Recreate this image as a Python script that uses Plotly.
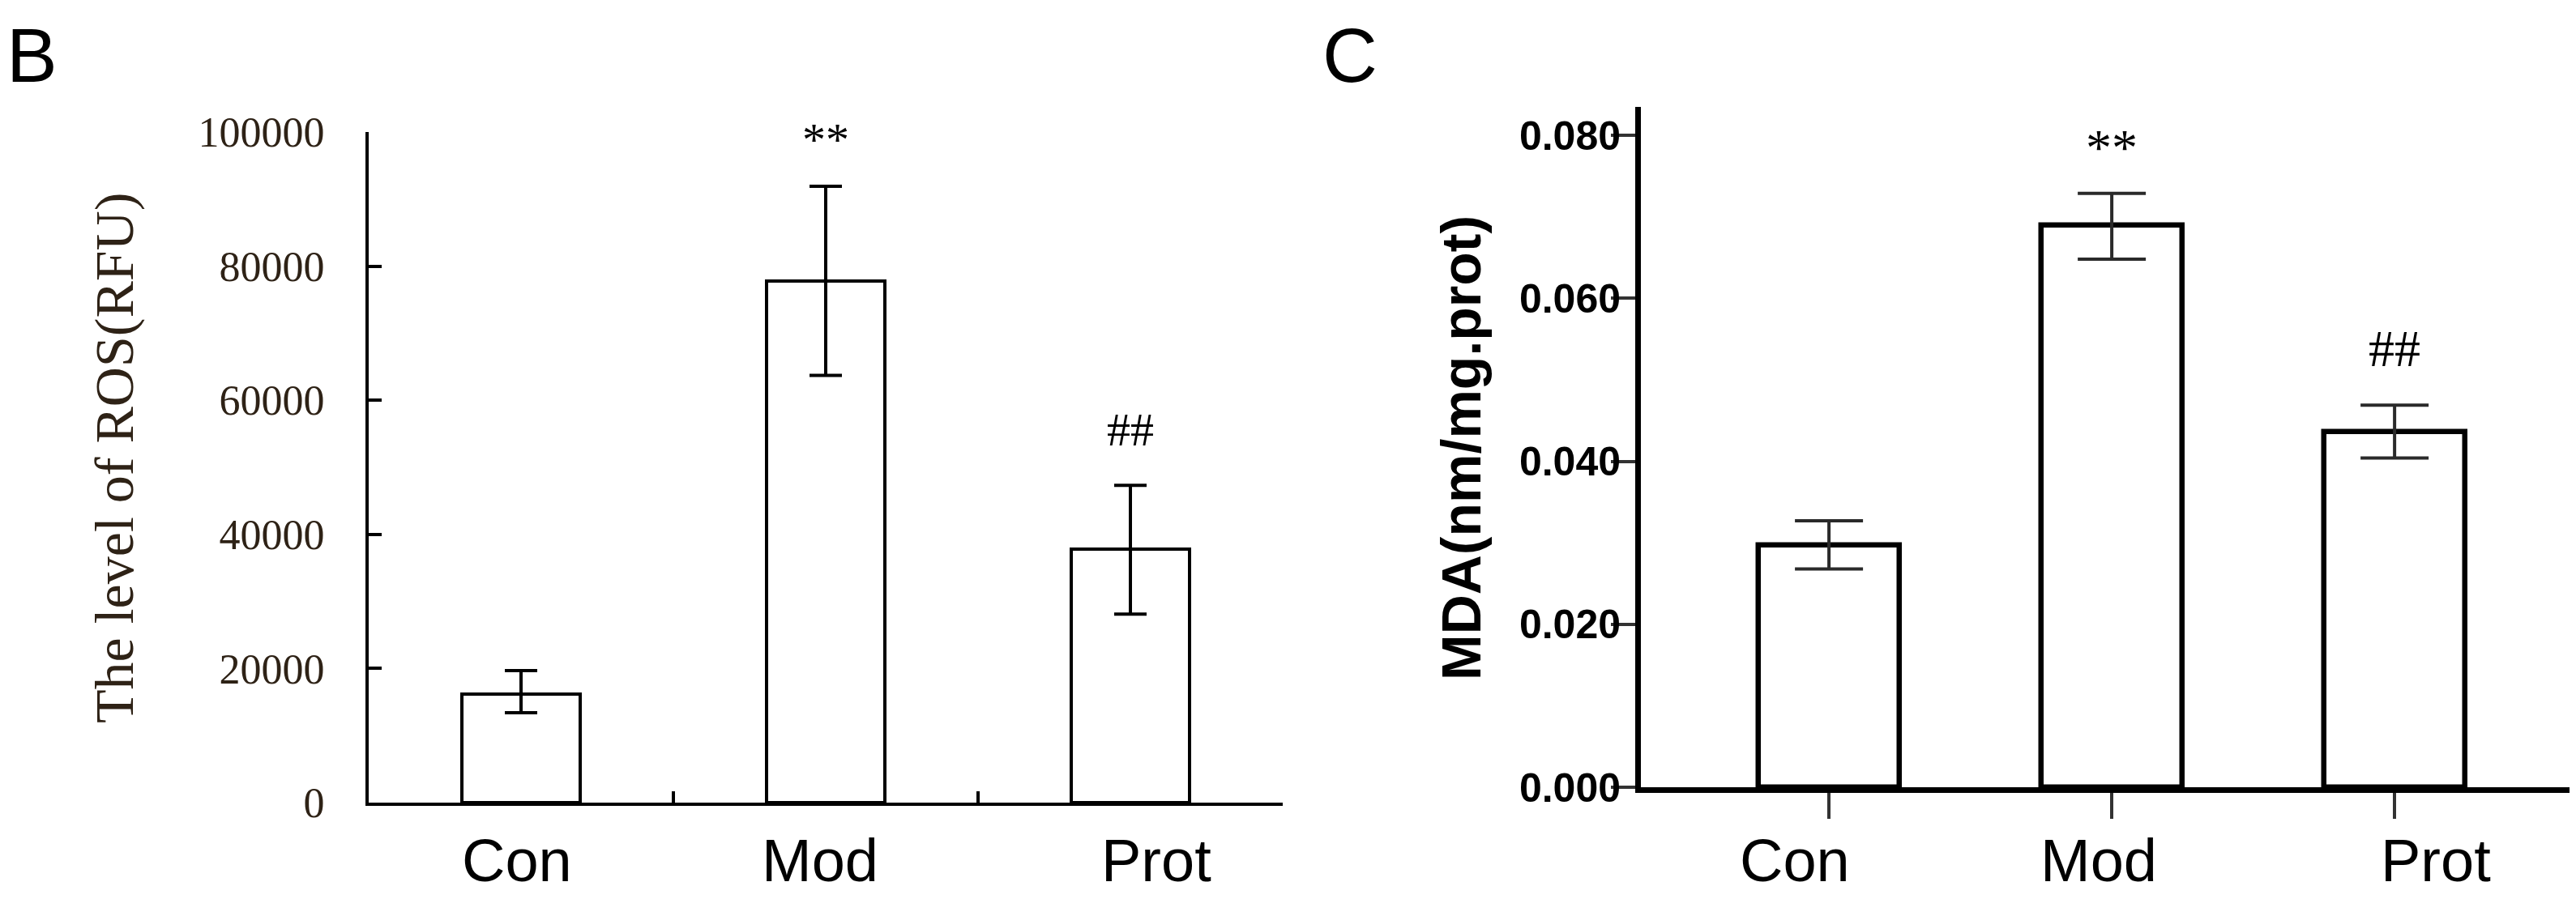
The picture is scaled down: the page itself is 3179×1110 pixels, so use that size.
import plotly.graph_objects as go

W, H = 3179, 1110
OFF = 8  # page body margin compensation (px)

# ---------------- data ----------------
categories = ["Con", "Mod", "Prot"]

ros_mean = [16200, 77800, 37800]
ros_err_plus = [3500, 14100, 9500]
ros_err_minus = [2800, 14100, 9700]
ros_marks = ["", "**", "##"]
ros_ticks = [0, 20000, 40000, 60000, 80000, 100000]

mda_mean = [0.0297, 0.0690, 0.0436]
mda_err_plus = [0.0030, 0.0039, 0.0033]
mda_err_minus = [0.0029, 0.0042, 0.0032]
mda_marks = ["", "**", "##"]
mda_ticks = [0.0, 0.02, 0.04, 0.06, 0.08]


def px_x(p):
    return (p - OFF) / W


def px_y(p):
    return (H - (p - OFF)) / H


fig = go.Figure()

fig.add_trace(go.Bar(
    x=categories, y=ros_mean, width=0.39,
    marker=dict(color="white", line=dict(color="black", width=4)),
    error_y=dict(type="data", symmetric=False, array=ros_err_plus,
                 arrayminus=ros_err_minus, color="black", thickness=4, width=20),
    xaxis="x", yaxis="y", showlegend=False,
))

fig.add_trace(go.Bar(
    x=categories, y=mda_mean, width=0.5,
    marker=dict(color="white", line=dict(color="black", width=6.5)),
    error_y=dict(type="data", symmetric=False, array=mda_err_plus,
                 arrayminus=mda_err_minus, color="#2a2a2a", thickness=4, width=42),
    xaxis="x2", yaxis="y2", showlegend=False,
))

brown = "#2e2216"

fig.update_layout(
    width=W, height=H, autosize=False,
    margin=dict(l=0, r=0, t=0, b=0, pad=0, autoexpand=False),
    paper_bgcolor="white", plot_bgcolor="white",
    showlegend=False,
    bargap=0,
    xaxis=dict(
        domain=[px_x(455), px_x(1583)], anchor="y", automargin=False,
        type="category", range=[-0.5, 2.5],
        tickson="boundaries", ticks="inside", ticklen=14, tickwidth=4, tickcolor="black",
        showticklabels=False, showgrid=False, zeroline=False,
        showline=True, linecolor="black", linewidth=4,
    ),
    yaxis=dict(
        domain=[px_y(991), px_y(163)], anchor="x", automargin=False,
        range=[0, 100000], tickvals=ros_ticks, ticktext=[str(v) for v in ros_ticks],
        ticks="inside", ticklen=16, tickwidth=4, tickcolor="black",
        ticklabelstandoff=40,
        tickfont=dict(family="Liberation Serif, Times New Roman, serif", size=52, color=brown),
        showgrid=False, zeroline=False,
        showline=True, linecolor="black", linewidth=4,
    ),
    xaxis2=dict(
        domain=[px_x(2025), px_x(3175)], anchor="y2", automargin=False,
        type="category", range=[-0.665, 2.63],
        ticks="outside", ticklen=32, tickwidth=4, tickcolor="#333333",
        showticklabels=False, showgrid=False, zeroline=False,
        showline=True, linecolor="black", linewidth=7,
    ),
    yaxis2=dict(
        domain=[px_y(972), px_y(132)], anchor="x2", automargin=False,
        range=[0, 0.0835], tickvals=mda_ticks, tickformat=".3f",
        ticks="outside", ticklen=30, tickwidth=4, tickcolor="#333333",
        ticklabelstandoff=-22,
        tickfont=dict(family="Liberation Sans Narrow, Arial Narrow, Liberation Sans, Arial",
                      size=50, color="black", weight="bold"),
        showgrid=False, zeroline=False,
        showline=True, linecolor="black", linewidth=7,
    ),
)

annotations = []

# category labels
label_font = dict(family="Liberation Sans, Arial, sans-serif", size=74, color="black")
b_label_shift = [-5, -7, 32]
c_label_shift = [-42, -16, 51]
for cat, dx in zip(categories, b_label_shift):
    annotations.append(dict(x=cat, xref="x", y=px_y(1062), yref="paper", text=cat,
                            showarrow=False, xanchor="center", yanchor="middle",
                            xshift=dx, font=label_font))
for cat, dx in zip(categories, c_label_shift):
    annotations.append(dict(x=cat, xref="x2", y=px_y(1062), yref="paper", text=cat,
                            showarrow=False, xanchor="center", yanchor="middle",
                            xshift=dx, font=label_font))

# significance marks
sig_font_b = dict(family="Liberation Serif, Times New Roman, serif", size=58, color="black")
sig_font_c = dict(family="Liberation Serif, Times New Roman, serif", size=64, color="black")
b_sig_shift = [0, 58, 69]
c_sig_shift = [0, 56, 70]
for cat, m, e, s, dy in zip(categories, ros_mean, ros_err_plus, ros_marks, b_sig_shift):
    if s:
        annotations.append(dict(x=cat, xref="x", y=m + e, yref="y", text=s,
                                showarrow=False, yanchor="middle", yshift=dy, font=sig_font_b))
for cat, m, e, s, dy in zip(categories, mda_mean, mda_err_plus, mda_marks, c_sig_shift):
    if s:
        annotations.append(dict(x=cat, xref="x2", y=m + e, yref="y2", text=s,
                                showarrow=False, yanchor="middle", yshift=dy, font=sig_font_c))

# axis titles
annotations.append(dict(x=px_x(141), y=px_y(566), xref="paper", yref="paper",
                        text="The level of ROS(RFU)", textangle=-90, showarrow=False,
                        xanchor="center", yanchor="middle",
                        font=dict(family="Liberation Serif, Times New Roman, serif",
                                  size=68, color=brown)))
annotations.append(dict(x=px_x(1803), y=px_y(553), xref="paper", yref="paper",
                        text="MDA(nm/mg.prot)", textangle=-90, showarrow=False,
                        xanchor="center", yanchor="middle",
                        font=dict(family="Liberation Sans, Arial, sans-serif",
                                  size=68, color="black", weight="bold")))

# panel letters
letter_font = dict(family="Liberation Sans, Arial, sans-serif", size=94, color="black")
annotations.append(dict(x=px_x(6), y=px_y(68), xref="paper", yref="paper", text="B",
                        showarrow=False, xanchor="left", yanchor="middle", font=letter_font))
annotations.append(dict(x=px_x(1630), y=px_y(68), xref="paper", yref="paper", text="C",
                        showarrow=False, xanchor="left", yanchor="middle", font=letter_font))

fig.update_layout(annotations=annotations)

fig.write_html("out.html")
